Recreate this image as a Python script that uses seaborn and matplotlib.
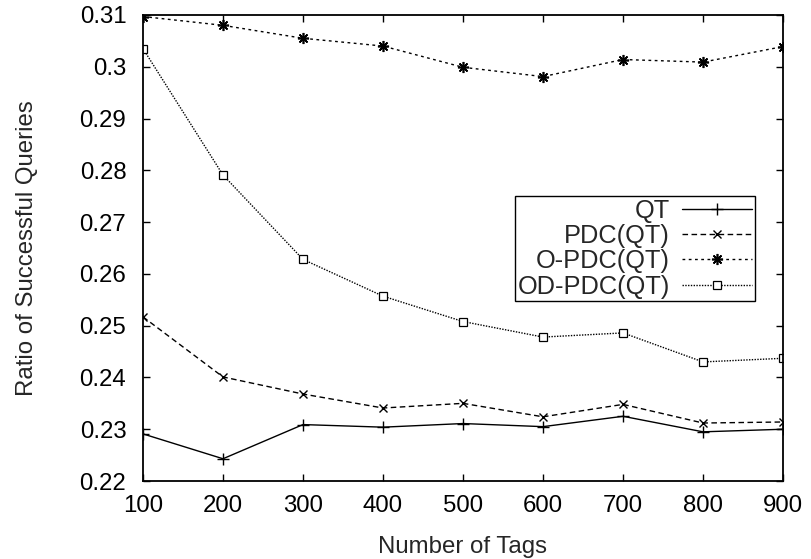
import matplotlib as mpl
mpl.use("Agg")
import matplotlib.pyplot as plt
import seaborn as sns
import pandas as pd

# values
tags = [100, 200, 300, 400, 500, 600, 700, 800, 900]
qt = [0.2291, 0.2243, 0.2309, 0.2304, 0.2311, 0.2305, 0.2325, 0.2295, 0.2300]
pdc_qt = [0.2517, 0.2401, 0.2368, 0.2341, 0.2350, 0.2324, 0.2348, 0.2312, 0.2314]
o_pdc_qt = [0.3097, 0.3080, 0.3055, 0.3040, 0.2999, 0.2981, 0.3014, 0.3009, 0.3039]
od_pdc_qt = [0.3035, 0.2791, 0.2628, 0.2557, 0.2508, 0.2478, 0.2486, 0.2430, 0.2437]

series_names = ["QT", "PDC(QT)", "O-PDC(QT)", "OD-PDC(QT)"]
x_ticks = [100, 200, 300, 400, 500, 600, 700, 800, 900]
y_ticks = [0.22, 0.23, 0.24, 0.25, 0.26, 0.27, 0.28, 0.29, 0.3, 0.31]
y_tick_labels = ["0.22", "0.23", "0.24", "0.25", "0.26", "0.27", "0.28", "0.29", "0.3", "0.31"]

sns.set_style("ticks")
plt.rcParams['font.family'] = ['Liberation Sans', 'DejaVu Sans']
fs = 17.3

fig = plt.figure(figsize=(8.11, 5.59), dpi=100)
ax = fig.add_axes([0.1763, 0.1395, 0.7892, 0.8337])

styles = {
    "QT": dict(linestyle="-", marker="+", markersize=8, mew=1.0),
    "PDC(QT)": dict(linestyle=(0, (4, 2.5)), marker="x", markersize=6, mew=1.0),
    "O-PDC(QT)": dict(linestyle=(0, (2, 2.5)), marker=(8, 2, 0), markersize=8, mew=1.2),
    "OD-PDC(QT)": dict(linestyle=(0, (1, 1)), marker="s", markersize=6, mew=0.9,
                       markerfacecolor="white"),
}

for name, vals in zip(series_names, [qt, pdc_qt, o_pdc_qt, od_pdc_qt]):
    df = pd.DataFrame({"tags": tags, "ratio": vals})
    sns.lineplot(data=df, x="tags", y="ratio", ax=ax, color="black", lw=1.0,
                 label=name, markeredgecolor="black", **styles[name])

ax.set_xlim(100, 900)
ax.set_ylim(0.22, 0.31)
ax.set_xticks(x_ticks)
ax.set_yticks(y_ticks)
ax.set_yticklabels(y_tick_labels)
ax.tick_params(direction="in", length=5, width=1, top=True, right=True,
               colors="black", labelsize=fs)
ax.tick_params(axis="x", pad=10)
ax.tick_params(axis="y", pad=12)
for sp in ax.spines.values():
    sp.set_linewidth(1.3)
    sp.set_color("black")

ax.set_xlabel("Number of Tags", fontsize=fs, labelpad=14)
ax.set_ylabel("Ratio of Successful Queries", fontsize=fs, labelpad=30)

# gnuplot-style key: text on the left, line sample on the right
leg = ax.legend(loc="upper right", bbox_to_anchor=(0.956, 0.611), markerfirst=False,
                fancybox=False, edgecolor="black", framealpha=1, fontsize=18.3,
                handlelength=2.75, borderpad=0.1, labelspacing=0.05,
                handletextpad=0.5, borderaxespad=0)
leg.get_frame().set_linewidth(1.0)
leg._legend_box.align = "right"
for t in leg.get_texts():
    t.set_ha("right")

fig.savefig("out.png", dpi=100)
